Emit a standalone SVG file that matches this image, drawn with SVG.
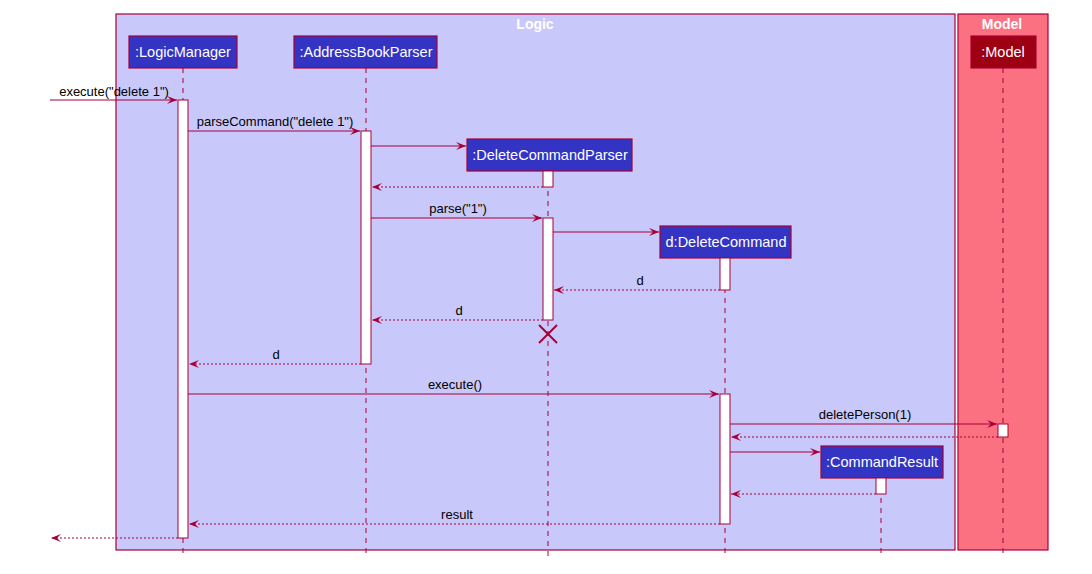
<svg xmlns="http://www.w3.org/2000/svg" width="1092" height="574" viewBox="0 0 1092 574">
<defs>
<marker id="ah" markerWidth="12" markerHeight="10" refX="10" refY="4" orient="auto" markerUnits="userSpaceOnUse">
<polygon points="0,0 10,4 0,8 4,4" fill="#A80036"/>
</marker>
<style>
.box{stroke:#A80036;stroke-width:1.2}
.pt{fill:#FFFFFF;font-family:"Liberation Sans",Arial,sans-serif;font-size:14.5px;text-anchor:middle}
.ttl{fill:#FFFFFF;font-family:"Liberation Sans",Arial,sans-serif;font-size:14px;font-weight:bold;text-anchor:middle}
.lbl{fill:#000000;font-family:"Liberation Sans",Arial,sans-serif;font-size:13px;text-anchor:middle}
.life{stroke:#A80036;stroke-width:1;stroke-dasharray:5,5;fill:none}
.act{fill:#FFFFFF;stroke:#A80036;stroke-width:1}
.msg{stroke:#A80036;stroke-width:1;fill:none;marker-end:url(#ah)}
.ret{stroke:#A80036;stroke-width:1;stroke-dasharray:2,2;fill:none;marker-end:url(#ah)}
</style>
</defs>
<rect width="1092" height="574" fill="#FFFFFF"/>
<g id="logic-box">
<rect x="116" y="14" width="839" height="536" fill="#C8C8FA" class="box"/>
<text x="535" y="29" class="ttl">Logic</text>
</g>
<g id="model-box">
<rect x="958" y="14" width="90" height="536" fill="#FC7182" class="box"/>
<text x="1002" y="29" class="ttl">Model</text>
</g>
<g id="lifelines">
<line x1="183" y1="68" x2="183" y2="556" class="life"/>
<line x1="366" y1="68" x2="366" y2="556" class="life"/>
<line x1="548" y1="171" x2="548" y2="556" class="life"/>
<line x1="725" y1="258" x2="725" y2="556" class="life"/>
<line x1="881" y1="478" x2="881" y2="556" class="life"/>
<line x1="1003" y1="68" x2="1003" y2="556" class="life"/>
</g>
<g id="LogicManager">
<rect x="129" y="36" width="108" height="32" fill="#3333C4" class="box"/>
<text x="183" y="57" class="pt">:LogicManager</text>
</g>
<g id="AddressBookParser">
<rect x="294" y="36" width="143" height="32" fill="#3333C4" class="box"/>
<text x="366" y="57" class="pt">:AddressBookParser</text>
</g>
<g id="DeleteCommandParser">
<rect x="467" y="139" width="165" height="32" fill="#3333C4" class="box"/>
<text x="550" y="160" class="pt">:DeleteCommandParser</text>
</g>
<g id="DeleteCommand">
<rect x="660" y="226" width="131" height="32" fill="#3333C4" class="box"/>
<text x="726" y="247" class="pt">d:DeleteCommand</text>
</g>
<g id="CommandResult">
<rect x="821" y="446" width="122" height="32" fill="#3333C4" class="box"/>
<text x="882" y="467" class="pt">:CommandResult</text>
</g>
<g id="Model">
<rect x="971" y="36" width="65" height="32" fill="#9D0012" class="box"/>
<text x="1003" y="57" class="pt">:Model</text>
</g>
<g id="activations">
<rect x="178" y="100" width="10" height="438" class="act"/>
<rect x="361" y="131" width="10" height="233" class="act"/>
<rect x="543" y="171" width="10" height="16" class="act"/>
<rect x="543" y="218" width="10" height="102" class="act"/>
<rect x="720" y="258" width="10" height="32" class="act"/>
<rect x="720" y="394" width="10" height="130" class="act"/>
<rect x="998" y="424" width="10" height="13" class="act"/>
<rect x="876" y="478" width="10" height="16" class="act"/>
</g>
<g id="connectors">
<line x1="50" y1="100" x2="177" y2="100" class="msg"/>
<text x="114" y="96" class="lbl">execute("delete 1")</text>
<line x1="188" y1="131" x2="360" y2="131" class="msg"/>
<text x="275" y="126" class="lbl">parseCommand("delete 1")</text>
<line x1="371" y1="146" x2="466" y2="146" class="msg"/>
<line x1="543" y1="187" x2="372" y2="187" class="ret"/>
<line x1="371" y1="218" x2="542" y2="218" class="msg"/>
<text x="458" y="213" class="lbl">parse("1")</text>
<line x1="553" y1="232" x2="659" y2="232" class="msg"/>
<line x1="720" y1="290" x2="554" y2="290" class="ret"/>
<text x="640" y="285" class="lbl">d</text>
<line x1="543" y1="320" x2="372" y2="320" class="ret"/>
<text x="459" y="315" class="lbl">d</text>
<g stroke="#A80036" stroke-width="2">
<line x1="539" y1="325" x2="557" y2="343"/>
<line x1="557" y1="325" x2="539" y2="343"/>
</g>
<line x1="361" y1="364" x2="189" y2="364" class="ret"/>
<text x="276" y="359" class="lbl">d</text>
<line x1="188" y1="394" x2="719" y2="394" class="msg"/>
<text x="455" y="389" class="lbl">execute()</text>
<line x1="730" y1="424" x2="997" y2="424" class="msg"/>
<text x="865" y="419" class="lbl">deletePerson(1)</text>
<line x1="998" y1="437" x2="731" y2="437" class="ret"/>
<line x1="730" y1="452" x2="820" y2="452" class="msg"/>
<line x1="876" y1="494" x2="731" y2="494" class="ret"/>
<line x1="720" y1="524" x2="189" y2="524" class="ret"/>
<text x="457" y="519" class="lbl">result</text>
<line x1="178" y1="538" x2="51" y2="538" class="ret"/>
</g>
</svg>
